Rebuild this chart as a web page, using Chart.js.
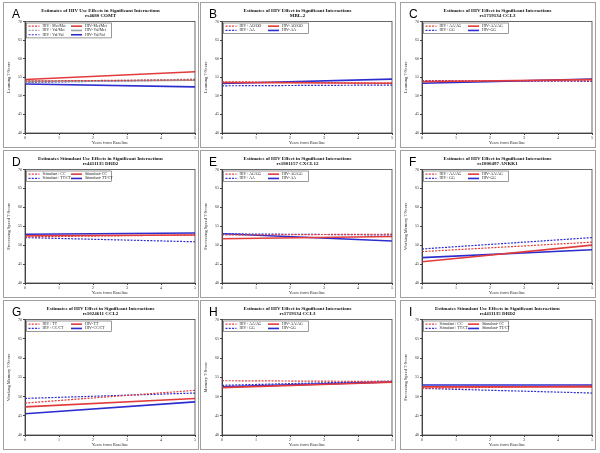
<!DOCTYPE html>
<html>
<head>
<meta charset="utf-8">
<script src="https://cdn.jsdelivr.net/npm/chart.js@4"></script>
<style>
  body { margin: 0; background: #fff; }
  #wrap { position: relative; width: 600px; height: 453px; }
  .panel { position: absolute; border: 1px solid #a0a0a0; box-sizing: border-box; }
  .panel canvas { position: absolute; left: 0; top: 0; }
  .letter { position: absolute; left: 8px; top: 4px; font: 12px "Liberation Sans", Arial, sans-serif; color: #000; }
</style>
</head>
<body>
<div id="wrap"></div>
<script>
const years = [0, 5];
const xTicks = [0, 1, 2, 3, 4, 5];
const yTicks = [40, 45, 50, 55, 60, 65, 70];

// A
const titleA = ['Estimates of HIV Use Effects in Significant Interactions', 'rs4680 COMT'];
const seriesA = ['HIV+ Met/Met', 'HIV- Met/Met', 'HIV+ Val/Met', 'HIV- Val/Met', 'HIV+ Val/Val', 'HIV- Val/Val'];
const startA = [54.0, 54.4, 53.7, 53.9, 53.6, 53.2];
const endA = [54.3, 56.5, 54.5, 54.2, 54.3, 52.4];
const yLabelA = 'Learning T-Score';

// B
const titleB = ['Estimates of HIV Effect in Significant Interactions', 'MBL-2'];
const seriesB = ['HIV+ AO/OO', 'HIV- AO/OO', 'HIV+ AA', 'HIV- AA'];
const startB = [53.8, 53.6, 52.7, 53.3];
const endB = [53.4, 53.4, 52.9, 54.5];
const yLabelB = 'Learning T-Score';

// C
const titleC = ['Estimates of HIV Effect in Significant Interactions', 'rs1719134 CCL3'];
const seriesC = ['HIV+ AA/AG', 'HIV- AA/AG', 'HIV+ GG', 'HIV- GG'];
const startC = [54.0, 53.8, 54.1, 53.4];
const endC = [54.0, 54.4, 53.9, 54.5];
const yLabelC = 'Learning T-Score';

// D
const titleD = ['Estimates Stimulant Use Effects in Significant Interactions', 'rs4411135 DRD2'];
const seriesD = ['Stimulant+ CC', 'Stimulant- CC', 'Stimulant+ TT/CT', 'Stimulant- TT/CT'];
const startD = [52.2, 52.5, 52.0, 52.9];
const endD = [52.7, 52.7, 50.9, 53.2];
const yLabelD = 'Processing Speed T-Score';

// E
const titleE = ['Estimates of HIV Effect in Significant Interactions', 'rs1801157 CXCL12'];
const seriesE = ['HIV+ AG/GG', 'HIV- AG/GG', 'HIV+ AA', 'HIV- AA'];
const startE = [52.7, 51.7, 53.0, 53.0];
const endE = [52.9, 52.3, 52.7, 51.1];
const yLabelE = 'Processing Speed T-Score';

// F
const titleF = ['Estimates of HIV Effect in Significant Interactions', 'rs1800497 ANKK1'];
const seriesF = ['HIV+ AA/AG', 'HIV- AA/AG', 'HIV+ GG', 'HIV- GG'];
const startF = [48.3, 45.6, 49.0, 46.7];
const endF = [50.8, 50.0, 52.0, 48.8];
const yLabelF = 'Working Memory T-Score';

// G
const titleG = ['Estimates of HIV Effect in Significant Interactions', 'rs1024611 CCL2'];
const seriesG = ['HIV+ TT', 'HIV- TT', 'HIV+ CC/CT', 'HIV- CC/CT'];
const startG = [48.3, 47.3, 49.5, 45.5];
const endG = [51.6, 49.5, 50.9, 48.6];
const yLabelG = 'Working Memory T-Score';

// H
const titleH = ['Estimates of HIV Effect in Significant Interactions', 'rs1719134 CCL3'];
const seriesH = ['HIV+ AA/AG', 'HIV- AA/AG', 'HIV+ GG', 'HIV- GG'];
const startH = [54.1, 52.3, 52.9, 52.5];
const endH = [53.9, 53.7, 54.0, 53.8];
const yLabelH = 'Memory T-Score';

// I
const titleI = ['Estimates Stimulant Use Effects in Significant Interactions', 'rs4411135 DRD2'];
const seriesI = ['Stimulant+ CC', 'Stimulant- CC', 'Stimulant+ TT/CT', 'Stimulant- TT/CT'];
const startI = [52.1, 52.5, 52.1, 53.0];
const endI = [52.8, 52.5, 50.9, 53.0];
const yLabelI = 'Processing Speed T-Score';

const xLabel = 'Years from Baseline';

const RED = '#e23b3b';
const BLUE = '#2d2dcf';
const GRAY = '#a0a0a0';

const panels = [
  ['A', titleA, seriesA, startA, endA, yLabelA, [RED, GRAY, BLUE]],
  ['B', titleB, seriesB, startB, endB, yLabelB, [RED, BLUE]],
  ['C', titleC, seriesC, startC, endC, yLabelC, [RED, BLUE]],
  ['D', titleD, seriesD, startD, endD, yLabelD, [RED, BLUE]],
  ['E', titleE, seriesE, startE, endE, yLabelE, [RED, BLUE]],
  ['F', titleF, seriesF, startF, endF, yLabelF, [RED, BLUE]],
  ['G', titleG, seriesG, startG, endG, yLabelG, [RED, BLUE]],
  ['H', titleH, seriesH, startH, endH, yLabelH, [RED, BLUE]],
  ['I', titleI, seriesI, startI, endI, yLabelI, [RED, BLUE]],
];

const colLeft = [3, 200, 400];
const rowTop = [2, 150, 300];
const panelW = 196;
const panelH = [146, 148, 150];

// box around the plot + legend inside top-left corner
const framePlugin = {
  id: 'frameLegend',
  afterDraw(chart) {
    const ctx = chart.ctx;
    const ca = chart.chartArea;
    ctx.save();
    ctx.strokeStyle = '#444';
    ctx.lineWidth = 0.8;
    ctx.strokeRect(ca.left, ca.top, ca.right - ca.left, ca.bottom - ca.top);

    const sets = chart.data.datasets;
    const rows = Math.ceil(sets.length / 2);
    const rowH = 4.3;
    const boxW = (ca.right - ca.left) * 0.5;
    const colW = boxW / 2;
    const x0 = ca.left + 1.5, y0 = ca.top + 1.5;
    ctx.fillStyle = '#fff';
    ctx.fillRect(x0, y0, boxW, rows * rowH + 2);
    ctx.strokeStyle = '#555';
    ctx.lineWidth = 0.6;
    ctx.strokeRect(x0, y0, boxW, rows * rowH + 2);
    ctx.font = '3.8px "Liberation Serif"';
    ctx.textBaseline = 'middle';
    sets.forEach((ds, i) => {
      const row = Math.floor(i / 2), col = i % 2;
      const lx = x0 + 2 + col * colW;
      const ly = y0 + 1 + rowH * row + rowH / 2;
      ctx.strokeStyle = ds.borderColor;
      ctx.lineWidth = ds.borderWidth;
      ctx.setLineDash(ds.borderDash || []);
      ctx.beginPath();
      ctx.moveTo(lx, ly);
      ctx.lineTo(lx + 11, ly);
      ctx.stroke();
      ctx.setLineDash([]);
      ctx.fillStyle = '#222';
      ctx.fillText(ds.label, lx + 14, ly);
    });
    ctx.restore();
  }
};

const wrap = document.getElementById('wrap');

panels.forEach((p, k) => {
  const [letter, title, series, start, end, yLabel, colors] = p;
  const col = k % 3, row = Math.floor(k / 3);
  const div = document.createElement('div');
  div.className = 'panel';
  div.style.left = colLeft[col] + 'px';
  div.style.top = rowTop[row] + 'px';
  div.style.width = panelW + 'px';
  div.style.height = panelH[row] + 'px';
  const canvas = document.createElement('canvas');
  canvas.width = panelW - 2;
  canvas.height = panelH[row] - 2;
  canvas.style.width = (panelW - 2) + 'px';
  canvas.style.height = (panelH[row] - 2) + 'px';
  div.appendChild(canvas);
  const lab = document.createElement('span');
  lab.className = 'letter';
  lab.textContent = letter;
  div.appendChild(lab);
  wrap.appendChild(div);

  const datasets = series.map((name, i) => {
    const dotted = i % 2 === 0;
    return {
      label: name,
      data: [{x: years[0], y: start[i]}, {x: years[1], y: end[i]}],
      borderColor: colors[Math.floor(i / 2)],
      borderWidth: dotted ? 1.2 : 1.6,
      borderDash: dotted ? [2, 1.3] : [],
      pointRadius: 0,
      tension: 0
    };
  });

  new Chart(canvas, {
    type: 'line',
    data: { datasets },
    options: {
      responsive: false,
      animation: false,
      layout: { padding: { left: 2, right: 3, top: 0, bottom: 1 } },
      plugins: {
        legend: { display: false },
        tooltip: { enabled: false },
        title: {
          display: true,
          text: title,
          color: '#111',
          font: { family: 'Liberation Serif', size: 5, weight: 'bold', lineHeight: 1.05 },
          padding: { top: 5, bottom: 3 }
        }
      },
      scales: {
        x: {
          type: 'linear',
          min: 0,
          max: 5,
          afterBuildTicks: s => { s.ticks = xTicks.map(v => ({ value: v })); },
          afterFit: s => { s.height = 13; },
          grid: { display: true, drawOnChartArea: false, tickLength: 2, color: '#444' },
          border: { color: '#444' },
          ticks: { font: { family: 'Liberation Serif', size: 4 }, color: '#333', padding: 1, maxRotation: 0 },
          title: { display: true, text: xLabel, font: { family: 'Liberation Serif', size: 4.5 }, color: '#333', padding: { top: 1, bottom: 0 } }
        },
        y: {
          min: 40,
          max: 70,
          afterBuildTicks: s => { s.ticks = yTicks.map(v => ({ value: v })); },
          afterFit: s => { s.width = 19; },
          grid: { display: true, drawOnChartArea: false, tickLength: 2, color: '#444' },
          border: { color: '#444' },
          ticks: { font: { family: 'Liberation Serif', size: 4 }, color: '#333', padding: 1 },
          title: { display: true, text: yLabel, font: { family: 'Liberation Serif', size: 4.5 }, color: '#333', padding: { top: 0, bottom: 2 } }
        }
      }
    },
    plugins: [framePlugin]
  });
});
</script>
</body>
</html>
